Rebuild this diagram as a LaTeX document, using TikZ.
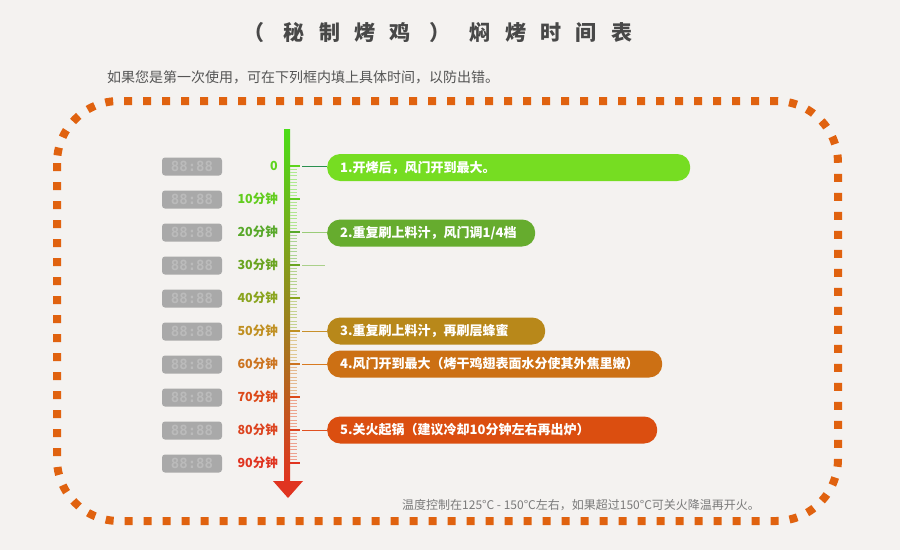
\documentclass[tikz,border=0pt]{standalone}
\usepackage{fontspec}
\setmainfont{Noto Sans CJK SC}
\newfontfamily\lcdfont{DejaVu Sans Mono}
\usetikzlibrary{calc}
\definecolor{bg}{HTML}{F4F2F0}
\definecolor{border}{HTML}{E0620F}
\definecolor{titlec}{HTML}{484848}
\definecolor{subc}{HTML}{555555}
\definecolor{notec}{HTML}{7A7A7A}
\definecolor{lcdbg}{HTML}{A9A9A9}
\definecolor{lcdfg}{HTML}{BBBBBB}
\definecolor{c0}{HTML}{5ED41E}
\definecolor{c1}{HTML}{62CC1E}
\definecolor{c2}{HTML}{58A82A}
\definecolor{c3}{HTML}{6AA420}
\definecolor{c4}{HTML}{8AA41E}
\definecolor{c5}{HTML}{C09022}
\definecolor{c6}{HTML}{CC7420}
\definecolor{c7}{HTML}{DC4A1A}
\definecolor{c8}{HTML}{DC4420}
\definecolor{c9}{HTML}{E03420}
\definecolor{p1}{HTML}{76DD22}
\definecolor{p2}{HTML}{66AC2E}
\definecolor{p3}{HTML}{B8881A}
\definecolor{p4}{HTML}{CC7014}
\definecolor{p5}{HTML}{DB4E10}
\definecolor{l1}{HTML}{2A9050}
\definecolor{l2}{HTML}{9ACC78}
\definecolor{l3}{HTML}{AAD08A}
\definecolor{l4}{HTML}{C8902A}
\definecolor{l5}{HTML}{D87A20}
\definecolor{l6}{HTML}{E05020}
\tikzset{
  lcd/.style={fill=lcdbg, rounded corners=3pt, minimum width=60pt, minimum height=18pt, inner sep=0pt,
    text=lcdfg, font=\lcdfont\bfseries\fontsize{14}{14}\selectfont},
  tlabel/.style={anchor=east, inner sep=0pt, font=\bfseries\fontsize{12.5}{13}\selectfont},
  pill/.style={anchor=west, rounded corners=13pt, minimum height=27pt, inner xsep=13pt, inner ysep=0pt,
    text=white, align=left, font=\bfseries\fontsize{13}{14}\selectfont},
  conn/.style={line width=1pt},
}
\begin{document}
\begin{tikzpicture}[x=1pt,y=-1pt]
\fill[bg] (0,0) rectangle (900,550);
\useasboundingbox (0,0) rectangle (900,550);
% title
\node[inner sep=0pt, text=titlec, font=\bfseries\fontsize{21}{22}\selectfont\addfontfeature{LetterSpace=68}] (title) at (438,33) {（ 秘制烤鸡 ） 焖烤时间表};
\node[anchor=west, inner sep=0pt, text=subc, font=\fontsize{14}{15}\selectfont] (sub) at (107,77) {如果您是第一次使用，可在下列框内填上具体时间，以防出错。};
% border
\draw[border, line width=8pt, dash pattern=on 8pt off 11pt, rounded corners=62pt] (57,101) rectangle (838,521);
% bar
\shade[top color=c0!80!green, middle color=c3!70!c4, bottom color=c9, shading=axis] (284,129) rectangle (290,482);
\fill[c9] (273,481) -- (303,481) -- (288,498) -- cycle;
\coordinate (arrowtip) at (288,498);
% ticks
\foreach \i/\c in {0/c0,1/c1,2/c2,3/c3,4/c4,5/c5,6/c6,7/c7,8/c8,9/c9}{
  \pgfmathsetmacro{\yy}{166+33*\i}
  \draw[\c, line width=2pt] (290,\yy) -- (300,\yy);
}
\foreach \i/\c in {0/c0,1/c1,2/c2,3/c3,4/c4,5/c5,6/c6,7/c7,8/c8}{
  \foreach \j in {1,...,9}{
    \pgfmathsetmacro{\yy}{166+33*\i+3.3*\j}
    \draw[\c!50!white, line width=1pt] (290,\yy) -- (297,\yy);
  }
}
% labels and lcd boxes
\foreach \i/\c/\t in {0/c0/0,1/c1/10分钟,2/c2/20分钟,3/c3/30分钟,4/c4/40分钟,5/c5/50分钟,6/c6/60分钟,7/c7/70分钟,8/c8/80分钟,9/c9/90分钟}{
  \pgfmathsetmacro{\yy}{166+33*\i}
  \node[tlabel, text=\c] (lab\i) at (278,\yy) {\t};
  \node[lcd] (lcd\i) at (192,\yy+0.5) {88:88};
}
% connectors and pills
\coordinate (t0) at (302,166);
\coordinate (t2) at (302,232);
\coordinate (t3) at (302,265);
\coordinate (e3) at (325,265);
\coordinate (t5) at (302,331);
\coordinate (t6) at (302,364);
\coordinate (t8) at (302,430);
\node[pill, fill=p1, text width=337pt] (s1) at (327,167.5) {1.开烤后，风门开到最大。};
\node[pill, fill=p2, text width=182pt] (s2) at (327,233) {2.重复刷上料汁，风门调1/4档};
\node[pill, fill=p3, text width=192pt] (s3) at (327,331) {3.重复刷上料汁，再刷层蜂蜜};
\node[pill, fill=p4, text width=309pt] (s4) at (327,364) {4.风门开到最大（烤干鸡翅表面水分使其外焦里嫩）};
\node[pill, fill=p5, text width=304pt] (s5) at (327,430) {5.关火起锅（建议冷却10分钟左右再出炉）};
\draw[conn, l1] (t0) -- (s1.west |- t0);
\draw[conn, l2] (t2) -- (s2.west |- t2);
\draw[conn, l3] (t3) -- (e3);
\draw[conn, l4] (t5) -- (s3.west |- t5);
\draw[conn, l5] (t6) -- (s4.west |- t6);
\draw[conn, l6] (t8) -- (s5.west |- t8);
% note
\node[anchor=west, inner sep=0pt, text=notec, font=\fontsize{12}{12}\selectfont] (note) at (402,505) {温度控制在125°C - 150°C左右，如果超过150°C可关火降温再开火。};
\end{tikzpicture}
\end{document}
